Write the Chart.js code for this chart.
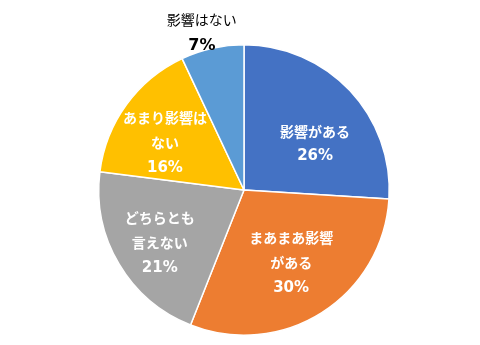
<!DOCTYPE html>
<html lang="ja">
<head>
<meta charset="utf-8">
<script src="https://cdn.jsdelivr.net/npm/chart.js@4.4.1/dist/chart.umd.min.js"></script>
<style>
  html, body { margin: 0; padding: 0; background: #fff; }
  #wrap { width: 480px; height: 345px; }
</style>
</head>
<body>
<div id="wrap"><canvas id="pie" width="480" height="345"></canvas></div>
<script>
// 回答の分類と割合(%)
const categories = ["影響がある", "まあまあ影響がある", "どちらとも言えない", "あまり影響はない", "影響はない"];
const shares = [26, 30, 21, 16, 7];

// ラベルの改行位置
const labelLines = [
  ["影響がある"],
  ["まあまあ影響", "がある"],
  ["どちらとも", "言えない"],
  ["あまり影響は", "ない"],
  ["影響はない"]
];

const sliceColors = ["#4472C4", "#ED7D31", "#A5A5A5", "#FFC000", "#5B9BD5"];

// ラベル位置: [半径に対する比率, 角度の補正(度)]
const labelPlace = [[0.583, 10.3], [0.599, -0.4], [0.685, -1.6], [0.634, -5.2], [1.121, -2.4]];

const JP_FONT = '"Noto Sans CJK JP", "Noto Sans", sans-serif';
const NUM_FONT = '"DejaVu Sans", "Noto Sans CJK JP", sans-serif';

// 各スライスにラベルと % を書く
const sliceLabels = {
  id: "sliceLabels",
  afterDatasetsDraw(chart) {
    const ctx = chart.ctx;
    const arcs = chart.getDatasetMeta(0).data;
    ctx.save();
    ctx.textAlign = "center";
    ctx.textBaseline = "middle";
    arcs.forEach((arc, i) => {
      const p = arc.getProps(["x", "y", "startAngle", "endAngle", "outerRadius"], true);
      const [frac, shift] = labelPlace[i];
      const a = (p.startAngle + p.endAngle) / 2 + shift * Math.PI / 180;
      const r = p.outerRadius * frac;
      const cx = p.x + Math.cos(a) * r;
      const cy = p.y + Math.sin(a) * r;
      const outside = frac > 1;
      const lines = labelLines[i].concat([shares[i] + "%"]);
      const lh = outside ? 26 : 25;
      const top = cy - (lines.length - 1) * lh / 2;
      ctx.fillStyle = outside ? "#000" : "#fff";
      lines.forEach((txt, k) => {
        const isPct = k === lines.length - 1;
        if (isPct) {
          ctx.font = "bold " + (outside ? 16 : 15) + "px " + NUM_FONT;
        } else {
          ctx.font = (outside ? "normal" : "bold") + " 14px " + JP_FONT;
        }
        ctx.fillText(txt, cx, top + k * lh);
      });
    });
    ctx.restore();
  }
};

new Chart(document.getElementById("pie"), {
  type: "pie",
  data: {
    labels: categories,
    datasets: [{
      data: shares,
      backgroundColor: sliceColors,
      borderColor: "#fff",
      borderWidth: 1.5,
      hoverOffset: 0
    }]
  },
  options: {
    responsive: false,
    animation: false,
    events: [],
    layout: { padding: { top: 44, bottom: 9, left: 98, right: 90 } },
    plugins: {
      legend: { display: false },
      tooltip: { enabled: false }
    }
  },
  plugins: [sliceLabels]
});
</script>
</body>
</html>
